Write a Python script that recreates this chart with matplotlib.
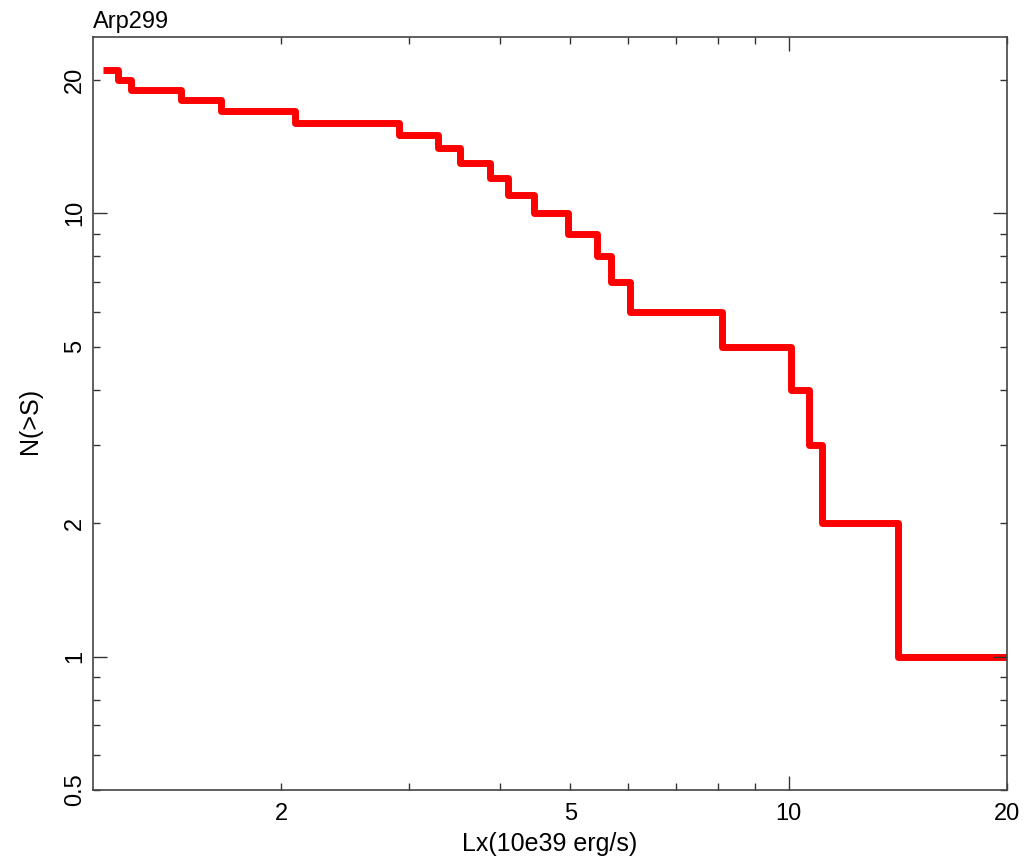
"""Cumulative luminosity function N(>S) for Arp299."""
import matplotlib
matplotlib.use('Agg')
import matplotlib.pyplot as plt

plt.rcParams['font.family'] = ['Liberation Sans', 'DejaVu Sans']

# Step edges (Lx, 10^39 erg/s) and the N(>S) level on each segment
lx_edges = [1.135, 1.19, 1.24, 1.455, 1.65, 2.09, 2.90, 3.29, 3.52, 3.88, 4.11,
            4.46, 4.97, 5.45, 5.69, 6.05, 8.10, 10.06, 10.65, 11.10, 14.14, 20.0]
n_levels = [21, 20, 19, 18, 17, 16, 15, 14, 13, 12, 11,
            10, 9, 8, 7, 6, 5, 4, 3, 2, 1]

x_major = [10]
x_minor = [2, 3, 4, 5, 6, 7, 8, 9, 20]
x_minor_labels = ['2', '', '', '5', '', '', '', '', '20']
y_major = [1, 10]
y_minor = [0.5, 0.6, 0.7, 0.8, 0.9, 2, 3, 4, 5, 6, 7, 8, 9, 20]
y_minor_labels = ['0.5', '', '', '', '', '2', '', '', '5', '', '', '', '', '20']

fig = plt.figure(figsize=(10.33, 8.56), dpi=100)
ax = fig.add_axes([0.090, 0.077, 0.885, 0.880])

ax.stairs(n_levels, lx_edges, baseline=None, color='#ff0000', linewidth=5,
          joinstyle='round')

ax.set_xscale('log')
ax.set_yscale('log')
ax.set_xlim(1.1, 20)
ax.set_ylim(0.5, 25)

ax.set_xticks(x_major, labels=['10'])
ax.set_xticks(x_minor, labels=x_minor_labels, minor=True)
ax.set_yticks(y_major, labels=['1', '10'])
ax.set_yticks(y_minor, labels=y_minor_labels, minor=True)

ax.tick_params(which='both', direction='in', top=True, right=True,
               labelsize=17, colors='#333333', labelcolor='black', width=1)
ax.tick_params(which='major', length=10)
ax.tick_params(which='minor', length=5)
ax.tick_params(axis='x', which='both', pad=9)
ax.tick_params(axis='y', which='both', pad=5)
for lab in ax.get_yticklabels(which='both'):
    lab.set_rotation(90)
    lab.set_verticalalignment('center')

for s in ax.spines.values():
    s.set_color('#444444')
    s.set_linewidth(1.2)

ax.set_xlabel('Lx(10e39 erg/s)', fontsize=18, labelpad=5)
ax.set_ylabel('N(>S)', fontsize=18)
ax.yaxis.set_label_coords(-0.056, 0.49)
ax.set_title('Arp299', fontsize=17, loc='left', pad=6)

fig.savefig('out.png', dpi=100)
